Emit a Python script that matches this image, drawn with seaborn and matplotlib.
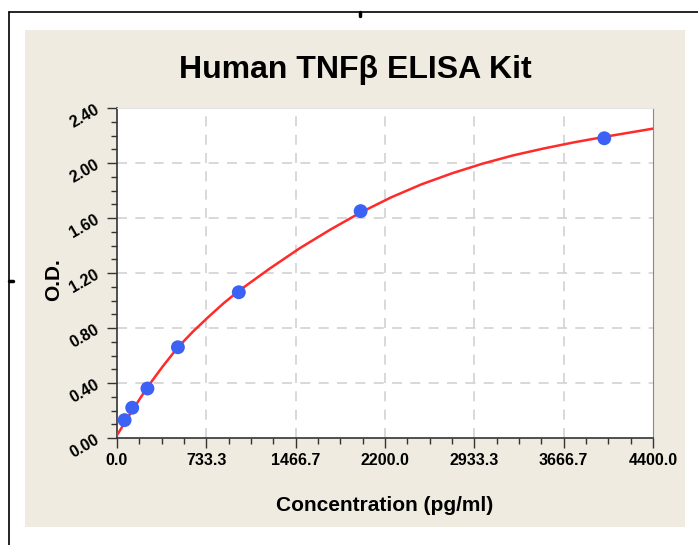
import matplotlib
matplotlib.use('Agg')
import matplotlib.pyplot as plt
import seaborn as sns
import pandas as pd
from matplotlib.lines import Line2D
from matplotlib.patches import Rectangle
from matplotlib.ticker import MultipleLocator

# standard points (measured)
conc = [62.5, 125, 250, 500, 1000, 2000, 4000]
od = [0.13, 0.22, 0.36, 0.66, 1.06, 1.65, 2.18]

# fitted curve
curve_x = [0, 125, 250, 375, 500, 625, 750, 875, 1000, 1250, 1500, 1750, 2000, 2250, 2500,
           2750, 3000, 3250, 3500, 3750, 4000, 4200, 4400]
curve_y = [0.02, 0.20, 0.37, 0.52, 0.66, 0.775, 0.88, 0.98, 1.07, 1.23, 1.38, 1.515, 1.64, 1.75,
           1.845, 1.925, 1.995, 2.055, 2.105, 2.15, 2.19, 2.22, 2.25]

x_ticks = [0, 733.3, 1466.7, 2200.0, 2933.3, 3666.7, 4400.0]
x_labels = ['0.0', '733.3', '1466.7', '2200.0', '2933.3', '3666.7', '4400.0']
y_ticks = [0.0, 0.4, 0.8, 1.2, 1.6, 2.0, 2.4]
y_labels = ['0.00', '0.40', '0.80', '1.20', '1.60', '2.00', '2.40']

sns.set_style('white')
plt.rcParams['font.family'] = ['Liberation Sans', 'DejaVu Sans']
plt.rcParams['text.color'] = 'black'
plt.rcParams['axes.labelcolor'] = 'black'
plt.rcParams['xtick.color'] = 'black'
plt.rcParams['ytick.color'] = 'black'

fig = plt.figure(figsize=(6.98, 5.45), dpi=100)
fig.patch.set_facecolor('white')

# beige panel and outer frame lines
fig.add_artist(Rectangle((25 / 698, 1 - 527 / 545), 660 / 698, 497 / 545,
                         transform=fig.transFigure, facecolor='#efebe0',
                         edgecolor='none', zorder=0))
fig.add_artist(Line2D([9 / 698, 1], [1 - 12 / 545, 1 - 12 / 545], color='black', lw=1.2))
fig.add_artist(Line2D([9 / 698, 9 / 698], [0, 1 - 12 / 545], color='black', lw=1.2))
fig.add_artist(Line2D([360 / 698, 360 / 698], [1 - 12 / 545, 1 - 16 / 545], color='black', lw=2.5))
fig.add_artist(Line2D([9 / 698, 13 / 698], [1 - 281 / 545, 1 - 281 / 545], color='black', lw=2.5))

ax = fig.add_axes([117 / 698, 1 - 438 / 545, 536 / 698, 330 / 545])
ax.set_facecolor('white')

df_curve = pd.DataFrame({'x': curve_x, 'y': curve_y})
df_pts = pd.DataFrame({'x': conc, 'y': od})
sns.lineplot(data=df_curve, x='x', y='y', ax=ax, color='#ff2a2a', lw=1.8, zorder=3)
sns.scatterplot(data=df_pts, x='x', y='y', ax=ax, color='#3b62f5', s=100,
                edgecolor='none', zorder=4)

ax.set_xlim(0, 4400)
ax.set_ylim(0, 2.4)
ax.set_xticks(x_ticks)
ax.set_xticklabels(x_labels, fontsize=11.5, fontweight='bold')
ax.set_yticks(y_ticks)
ax.set_yticklabels(y_labels, fontsize=11.5, fontweight='bold', rotation=30)
ax.xaxis.set_minor_locator(MultipleLocator(4400 / 24))
ax.yaxis.set_minor_locator(MultipleLocator(0.1))
ax.tick_params(which='major', direction='out', length=7, width=1, color='#333333',
               bottom=True, left=True, pad=4)
ax.tick_params(which='minor', direction='out', length=4, width=1, color='#333333',
               bottom=True, left=True)

for v in x_ticks[1:-1]:
    ax.axvline(v, color='#d2d2d2', lw=1.2, ls=(0, (6, 5)), zorder=1)
for v in y_ticks[1:-1]:
    ax.axhline(v, color='#d2d2d2', lw=1.2, ls=(0, (6, 5)), zorder=1)

for s in ['left', 'bottom']:
    ax.spines[s].set_color('#333333')
    ax.spines[s].set_linewidth(1.2)
ax.spines['right'].set_color('#888888')
ax.spines['top'].set_color('#e4e4e4')

ax.set_xlabel('Concentration (pg/ml)', fontsize=15, fontweight='bold', labelpad=20)
ax.set_ylabel('O.D.', fontsize=15, fontweight='bold')
ax.yaxis.set_label_coords(-0.10, 0.48)
fig.text(355 / 698, 1 - 70 / 545, 'Human TNFβ ELISA Kit', fontsize=23,
         fontweight='bold', ha='center', va='center')

fig.savefig('out.png', dpi=100)
